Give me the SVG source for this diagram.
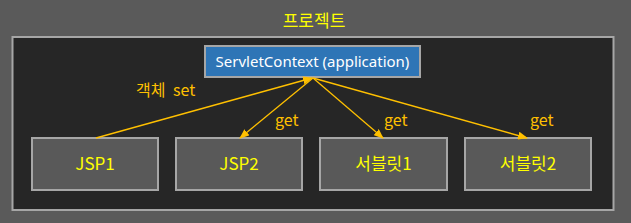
<svg xmlns="http://www.w3.org/2000/svg" width="631" height="223" viewBox="0 0 631 223">
<style>
.box{fill:#595959;stroke:#a6a6a6;stroke-width:2}
.lbl{font-family:"Noto Sans CJK KR","Noto Sans",sans-serif;font-size:17px;fill:#ffff00;text-anchor:middle}
.edge{stroke:#ffc000;stroke-width:1.3;fill:none}
.elbl{font-family:"Noto Sans CJK KR","Noto Sans",sans-serif;font-size:16px;fill:#ffc000}
</style>
<defs>
<marker id="ah" markerWidth="10" markerHeight="8" refX="9" refY="4" orient="auto" markerUnits="userSpaceOnUse">
<path d="M0,0 L10,4 L0,8 Z" fill="#ffc000"/>
</marker>
</defs>
<rect width="631" height="223" fill="#5a5a5a"/>
<g id="project">
<rect x="12.5" y="37" width="601" height="173" fill="#262626" stroke="#a6a6a6" stroke-width="2"/>
<text x="314" y="27" class="lbl">프로젝트</text>
</g>
<g id="servletcontext">
<rect x="205" y="46" width="215" height="31" fill="#2e75b6" stroke="#a6a6a6" stroke-width="2"/>
<text x="312.5" y="67" font-family="'Noto Sans','Open Sans',sans-serif" font-size="15" fill="#ffffff" text-anchor="middle">ServletContext (application)</text>
</g>
<g id="jsp1"><rect class="box" x="32" y="138" width="126" height="52"/><text class="lbl" x="95" y="170">JSP1</text></g>
<g id="jsp2"><rect class="box" x="176" y="138" width="126" height="52"/><text class="lbl" x="239" y="170">JSP2</text></g>
<g id="servlet1"><rect class="box" x="320" y="138" width="127" height="52"/><text class="lbl" x="383.5" y="170">서블릿1</text></g>
<g id="servlet2"><rect class="box" x="465" y="138" width="126" height="52"/><text class="lbl" x="528" y="170">서블릿2</text></g>
<g id="connectors">
<line class="edge" x1="96" y1="138" x2="312" y2="78" marker-end="url(#ah)"/>
<line class="edge" x1="313" y1="78" x2="240" y2="138" marker-end="url(#ah)"/>
<line class="edge" x1="313" y1="78" x2="383" y2="138" marker-end="url(#ah)"/>
<line class="edge" x1="313" y1="78" x2="527" y2="138" marker-end="url(#ah)"/>
<text class="elbl" x="136" y="96" word-spacing="4">객체 set</text>
<text class="elbl" x="275" y="126">get</text>
<text class="elbl" x="384" y="126">get</text>
<text class="elbl" x="530" y="126">get</text>
</g>
</svg>
